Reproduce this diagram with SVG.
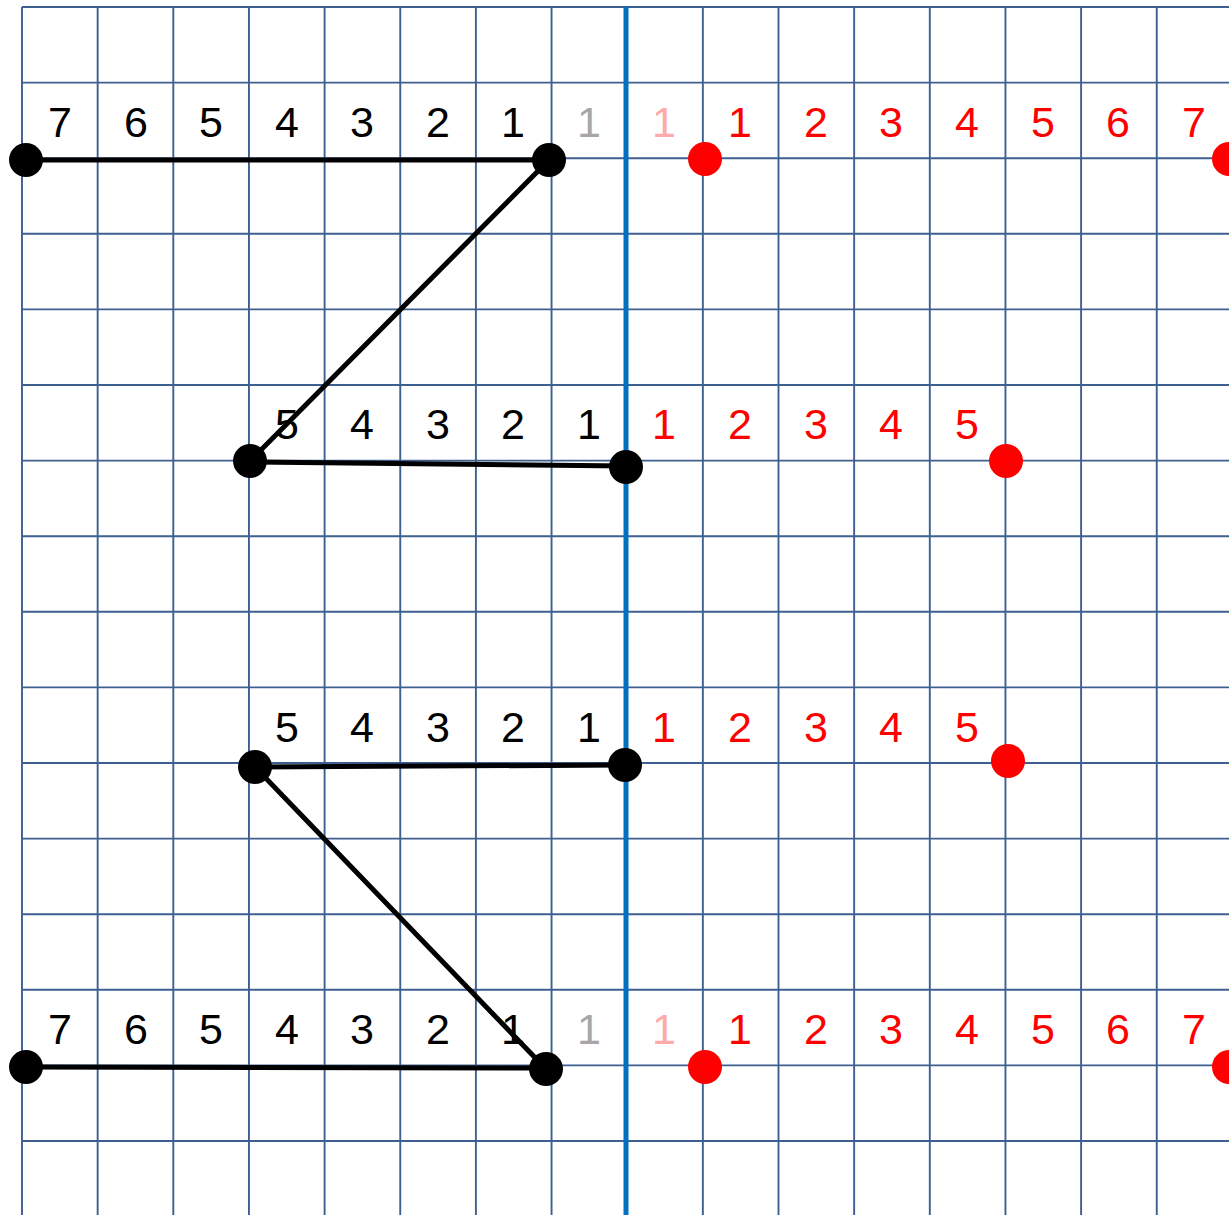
<svg xmlns="http://www.w3.org/2000/svg" width="1229" height="1215" viewBox="0 0 1229 1215">
<style>
.g{stroke:#3D6090;stroke-width:1.9;fill:none}
.t{font-family:"Liberation Sans",Arial,sans-serif;font-size:43px;text-anchor:middle}
.k{fill:#000}.r{fill:#FF0000}.gr{fill:#A6A6A6}.p{fill:#FFAAAA}
.c{stroke:#000;stroke-width:5;fill:none;stroke-linecap:round}
</style>
<rect width="1229" height="1215" fill="#fff"/>
<g id="grid" class="g">
<path d="M22,7V1215M97.65,7V1215M173.3,7V1215M248.95,7V1215M324.6,7V1215M400.25,7V1215M475.9,7V1215M551.55,7V1215M702.85,7V1215M778.5,7V1215M854.15,7V1215M929.8,7V1215M1005.45,7V1215M1081.1,7V1215M1156.75,7V1215"/>
<path d="M22,7H1229M22,82.6H1229M22,158.2H1229M22,233.8H1229M22,309.4H1229M22,385H1229M22,460.6H1229M22,536.2H1229M22,611.8H1229M22,687.4H1229M22,763H1229M22,838.6H1229M22,914.2H1229M22,989.8H1229M22,1065.4H1229M22,1141H1229"/>
</g>
<line id="axis" x1="626" y1="7" x2="626" y2="1215" stroke="#0070C0" stroke-width="5"/>
<g id="connectors" class="c">
<line x1="26" y1="160" x2="549" y2="160"/>
<line x1="549" y1="160" x2="250" y2="461"/>
<line x1="250" y1="462" x2="626" y2="466"/>
<line x1="255" y1="767" x2="625" y2="765"/>
<line x1="255" y1="767" x2="546" y2="1069"/>
<line x1="26" y1="1067" x2="546" y2="1068"/>
</g>
<g id="row1" class="t">
<text x="60" y="137" class="k">7</text><text x="136" y="137" class="k">6</text><text x="211" y="137" class="k">5</text><text x="287" y="137" class="k">4</text><text x="362" y="137" class="k">3</text><text x="438" y="137" class="k">2</text><text x="513" y="137" class="k">1</text>
<text x="589" y="137" class="gr">1</text><text x="664" y="137" class="p">1</text>
<text x="740" y="137" class="r">1</text><text x="816" y="137" class="r">2</text><text x="891" y="137" class="r">3</text><text x="967" y="137" class="r">4</text><text x="1043" y="137" class="r">5</text><text x="1118" y="137" class="r">6</text><text x="1194" y="137" class="r">7</text>
</g>
<g id="row2" class="t">
<text x="287" y="439" class="k">5</text><text x="362" y="439" class="k">4</text><text x="438" y="439" class="k">3</text><text x="513" y="439" class="k">2</text><text x="589" y="439" class="k">1</text>
<text x="664" y="439" class="r">1</text><text x="740" y="439" class="r">2</text><text x="816" y="439" class="r">3</text><text x="891" y="439" class="r">4</text><text x="967" y="439" class="r">5</text>
</g>
<g id="row3" class="t">
<text x="287" y="742" class="k">5</text><text x="362" y="742" class="k">4</text><text x="438" y="742" class="k">3</text><text x="513" y="742" class="k">2</text><text x="589" y="742" class="k">1</text>
<text x="664" y="742" class="r">1</text><text x="740" y="742" class="r">2</text><text x="816" y="742" class="r">3</text><text x="891" y="742" class="r">4</text><text x="967" y="742" class="r">5</text>
</g>
<g id="row4" class="t">
<text x="60" y="1044" class="k">7</text><text x="136" y="1044" class="k">6</text><text x="211" y="1044" class="k">5</text><text x="287" y="1044" class="k">4</text><text x="362" y="1044" class="k">3</text><text x="438" y="1044" class="k">2</text><text x="513" y="1044" class="k">1</text>
<text x="589" y="1044" class="gr">1</text><text x="664" y="1044" class="p">1</text>
<text x="740" y="1044" class="r">1</text><text x="816" y="1044" class="r">2</text><text x="891" y="1044" class="r">3</text><text x="967" y="1044" class="r">4</text><text x="1043" y="1044" class="r">5</text><text x="1118" y="1044" class="r">6</text><text x="1194" y="1044" class="r">7</text>
</g>
<g id="black-dots" fill="#000">
<circle cx="26" cy="160" r="17"/><circle cx="549" cy="160" r="17"/>
<circle cx="250" cy="461" r="17"/><circle cx="626" cy="467" r="17"/>
<circle cx="255" cy="767" r="17"/><circle cx="625" cy="765" r="17"/>
<circle cx="26" cy="1067" r="17"/><circle cx="546" cy="1069" r="17"/>
</g>
<g id="red-dots" fill="#FF0000">
<circle cx="705" cy="159" r="17"/><circle cx="1229" cy="159" r="17"/>
<circle cx="1006" cy="461" r="17"/><circle cx="1008" cy="761" r="17"/>
<circle cx="705" cy="1067" r="17"/><circle cx="1229" cy="1067" r="17"/>
</g>
</svg>
